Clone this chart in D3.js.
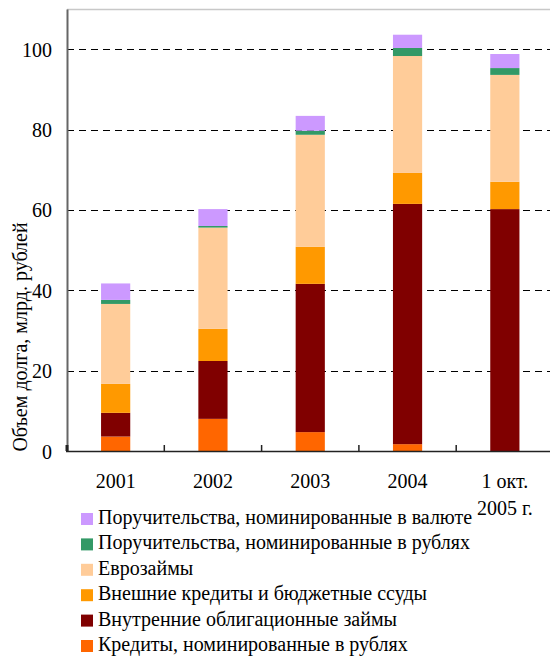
<!DOCTYPE html>
<meta charset="utf-8">
<style>
body {
  margin: 0;
  background: #fff;
}
svg text {
  font-family: "Liberation Serif", "Times New Roman", serif;
  fill: #000;
}
.grid line {
  stroke: #000;
  stroke-dasharray: 7, 5;
  stroke-width: 1;
}
</style>
<div id="chart"></div>
<script src="https://d3js.org/d3.v7.min.js"></script>
<script>
  // categories (second line of a label goes after "|")
  var years = ["2001", "2002", "2003", "2004", "1 окт.|2005 г."];

  // series, bottom to top, values in bn roubles
  var series_names = [
    "Кредиты, номинированные в рублях",
    "Внутренние облигационные займы",
    "Внешние кредиты и бюджетные ссуды",
    "Еврозаймы",
    "Поручительства, номинированные в рублях",
    "Поручительства, номинированные в валюте"
  ];
  var series_colors = ["#ff6600", "#800000", "#ff9900", "#ffcc99", "#339966", "#cc99ff"];

  var rub_credits  = [3.6, 8.0, 4.7, 1.7, 0.0];
  var domestic     = [5.9, 14.4, 36.9, 59.8, 60.2];
  var external     = [7.2, 8.0, 9.2, 7.7, 6.8];
  var eurobonds    = [19.9, 25.2, 27.9, 29.1, 26.6];
  var guar_rub     = [1.0, 0.4, 1.0, 2.0, 1.7];
  var guar_cur     = [4.1, 4.2, 3.7, 3.3, 3.5];

  var y_ticks = [0, 20, 40, 60, 80, 100];

  var width = 550, height = 656;
  var margin = {left: 67, top: 9};
  var plot_w = 486.5, plot_h = 442;
  var font_size = "20px";

  var values = [rub_credits, domestic, external, eurobonds, guar_rub, guar_cur];
  var rows = years.map(function(y, i) {
    var r = {year: y};
    values.forEach(function(v, k) { r["s" + k] = v[i]; });
    return r;
  });
  var keys = values.map(function(v, k) { return "s" + k; });
  var stacked = d3.stack().keys(keys)(rows);

  var svg = d3.select("#chart")
    .append("svg")
    .attr("width", width)
    .attr("height", height);

  var x = d3.scaleBand()
    .domain(years)
    .range([margin.left, margin.left + plot_w])
    .paddingInner(0.7)
    .paddingOuter(0.35);

  var y = d3.scaleLinear()
    .domain([0, 110])
    .range([margin.top + plot_h, margin.top]);

  // top frame line
  svg.append("line")
    .attr("x1", margin.left).attr("x2", margin.left + plot_w)
    .attr("y1", margin.top + 0.5).attr("y2", margin.top + 0.5)
    .attr("stroke", "#c8c8c8")
    .attr("stroke-width", 1.5);

  // gridlines
  svg.append("g")
    .attr("class", "grid")
    .selectAll("line")
    .data(y_ticks.filter(function(d) { return d > 0; }))
    .enter()
    .append("line")
    .attr("x1", margin.left)
    .attr("x2", margin.left + plot_w)
    .attr("y1", function(d) { return Math.round(y(d)) + 0.5; })
    .attr("y2", function(d) { return Math.round(y(d)) + 0.5; });

  // bars
  svg.append("g")
    .selectAll("g")
    .data(stacked)
    .enter()
    .append("g")
    .attr("fill", function(d, i) { return series_colors[i]; })
    .selectAll("rect")
    .data(function(d) { return d; })
    .enter()
    .append("rect")
    .attr("x", function(d) { return x(d.data.year); })
    .attr("width", x.bandwidth())
    .attr("y", function(d) { return y(d[1]); })
    .attr("height", function(d) { return y(d[0]) - y(d[1]); });

  // y axis
  var yAxis = svg.append("g")
    .attr("transform", "translate(" + margin.left + ",0)")
    .call(d3.axisLeft(y).tickValues(y_ticks).tickSize(0).tickPadding(15));
  yAxis.select(".domain").attr("stroke", "#666").attr("stroke-width", 2);
  yAxis.selectAll("text")
    .style("font-size", font_size)
    .attr("dy", "0.35em");

  // x axis: ticks between categories, pointing inwards
  var bounds = d3.range(years.length).map(function(i) {
    return x(years[i]) - x.step() * x.paddingInner() / 2 - (i === 0 ? x.step() * (x.paddingOuter() - x.paddingInner() / 2) : 0);
  });
  var xg = svg.append("g");
  xg.append("line")
    .attr("x1", margin.left - 1).attr("x2", margin.left + plot_w)
    .attr("y1", y(0) + 0.5).attr("y2", y(0) + 0.5)
    .attr("stroke", "#222")
    .attr("stroke-width", 1.5);
  xg.selectAll(".tick")
    .data(bounds)
    .enter()
    .append("line")
    .attr("class", "tick")
    .attr("x1", function(d) { return d; })
    .attr("x2", function(d) { return d; })
    .attr("y1", y(0) - 6)
    .attr("y2", y(0))
    .attr("stroke", "#222")
    .attr("stroke-width", function(d, i) { return i === 0 ? 3 : 1.5; });

  var xlab = xg.selectAll(".xlab")
    .data(years)
    .enter()
    .append("text")
    .attr("class", "xlab")
    .attr("text-anchor", "middle")
    .style("font-size", font_size)
    .attr("transform", function(d) {
      return "translate(" + (x(d) + x.bandwidth() / 2) + "," + 488 + ")";
    });
  xlab.selectAll("tspan")
    .data(function(d) { return d.split("|"); })
    .enter()
    .append("tspan")
    .attr("x", 0)
    .attr("y", function(d, i) { return i * 27; })
    .text(function(d) { return d; });

  // y title
  svg.append("text")
    .attr("transform", "translate(27,337) rotate(-90)")
    .attr("text-anchor", "middle")
    .style("font-size", font_size)
    .text("Объем долга, млрд. рублей");

  // legend, top item = last series
  var legend = svg.append("g")
    .selectAll("g")
    .data(series_names.map(function(n, i) { return {name: n, color: series_colors[i]}; }).reverse())
    .enter()
    .append("g")
    .attr("transform", function(d, i) { return "translate(81," + (513 + i * 25.4) + ")"; });
  legend.append("rect")
    .attr("width", 12)
    .attr("height", 12)
    .attr("fill", function(d) { return d.color; });
  legend.append("text")
    .attr("x", 17)
    .attr("y", 11)
    .style("font-size", font_size)
    .text(function(d) { return d.name; });
</script>
